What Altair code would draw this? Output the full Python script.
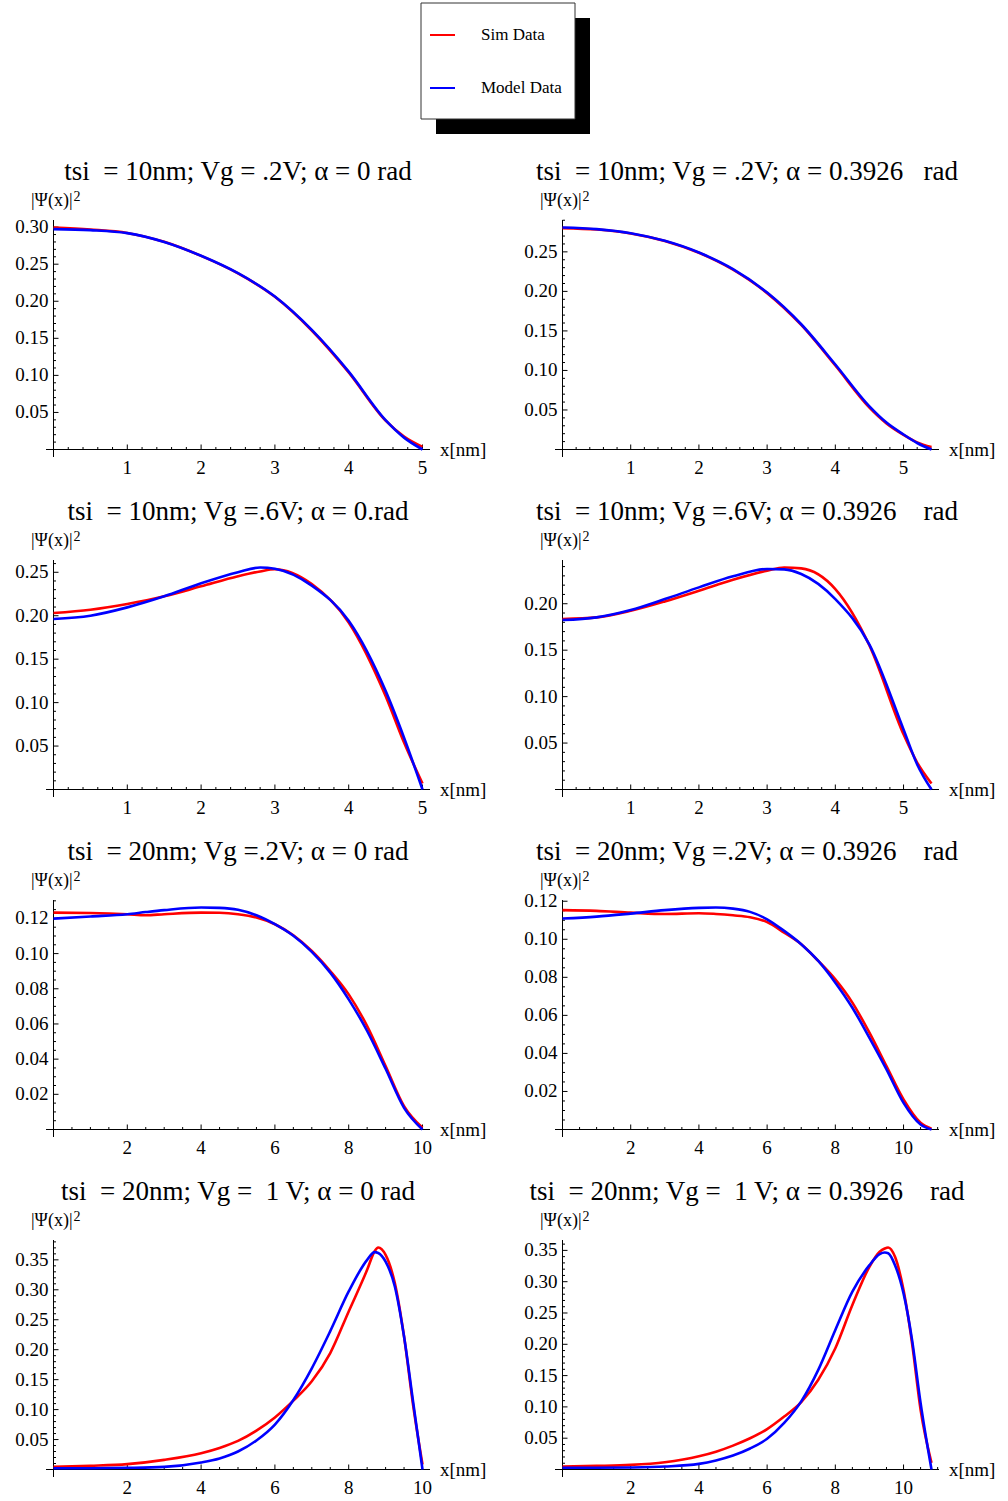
import altair as alt
import pandas as pd

FONT = "Liberation Serif"
SIM_COLOR = "#ff0000"
MODEL_COLOR = "#0000ff"
SERIES = ["Sim Data", "Model Data"]

# ---------------------------------------------------------------- data
# tsi = 10nm, Vg = .2V, alpha = 0
X1 = [0, 0.5, 1, 1.5, 2, 2.5, 3, 3.5, 4, 4.5, 4.75, 5]
SIM1 = [0.2995, 0.2968, 0.2922, 0.2802, 0.2612, 0.2376, 0.2060, 0.1605, 0.1040, 0.0390, 0.0175, 0.0036]
MOD1 = [0.2973, 0.2959, 0.2919, 0.2800, 0.2613, 0.2378, 0.2063, 0.1613, 0.1050, 0.0396, 0.0160, 0.0]

# tsi = 10nm, Vg = .2V, alpha = 0.3926
X2 = [0, 0.5, 1, 1.5, 2, 2.5, 3, 3.5, 4, 4.5, 4.75, 5, 5.2, 5.41]
SIM2 = [0.2800, 0.2782, 0.2733, 0.2638, 0.2488, 0.2275, 0.1978, 0.1575, 0.1062, 0.0530, 0.0330, 0.0185, 0.0090, 0.0030]
MOD2 = [0.2808, 0.2787, 0.2736, 0.2639, 0.2491, 0.2281, 0.1985, 0.1584, 0.1075, 0.0545, 0.0340, 0.0190, 0.0082, 0.0]

# tsi = 10nm, Vg = .6V, alpha = 0
X3 = [0, 0.5, 1, 1.5, 2, 2.5, 2.8, 3, 3.5, 4, 4.5, 4.75, 5]
SIM3 = [0.2031, 0.2069, 0.2135, 0.2223, 0.2338, 0.2454, 0.2510, 0.2535, 0.2365, 0.1923, 0.1077, 0.0540, 0.0069]
MOD3 = [0.1962, 0.2000, 0.2096, 0.2223, 0.2373, 0.2500, 0.2555, 0.2540, 0.2346, 0.1942, 0.1135, 0.0596, 0.0]

# tsi = 10nm, Vg = .6V, alpha = 0.3926
X4 = [0, 0.5, 1, 1.5, 2, 2.5, 3, 3.25, 3.5, 4, 4.5, 5, 5.2, 5.41]
SIM4 = [0.1835, 0.1853, 0.1924, 0.2025, 0.2140, 0.2259, 0.2356, 0.2390, 0.2381, 0.2158, 0.1550, 0.0594, 0.0290, 0.0065]
MOD4 = [0.1824, 0.1853, 0.1932, 0.2050, 0.2176, 0.2295, 0.2374, 0.2370, 0.2320, 0.2050, 0.1560, 0.0647, 0.0270, 0.0]

# tsi = 20nm, Vg = .2V, alpha = 0
X5 = [0, 1, 2, 2.5, 3, 4, 4.5, 5, 5.5, 6, 6.5, 7, 7.5, 8, 8.5, 9, 9.5, 10]
SIM5 = [0.1233, 0.1231, 0.1224, 0.1218, 0.1224, 0.1233, 0.1232, 0.1224, 0.1205, 0.1167, 0.1104, 0.1015,
        0.0901, 0.0768, 0.0588, 0.0361, 0.0133, 0.0010]
MOD5 = [0.1199, 0.1211, 0.1224, 0.1236, 0.1247, 0.1262, 0.1260, 0.1249, 0.1218, 0.1167, 0.1101, 0.1010,
        0.0892, 0.0740, 0.0560, 0.0345, 0.0123, 0.0]

# tsi = 20nm, Vg = .2V, alpha = 0.3926
X6 = [0, 1, 2, 3, 4, 4.5, 5, 5.5, 6, 6.5, 7, 7.5, 8, 8.5, 9, 9.5, 10, 10.5, 10.82]
SIM6 = [0.1153, 0.1149, 0.1140, 0.1133, 0.1137, 0.1133, 0.1126, 0.1116, 0.1090, 0.1035, 0.0974, 0.0886,
        0.0789, 0.0667, 0.0509, 0.0333, 0.0158, 0.0035, 0.0004]
MOD6 = [0.1109, 0.1119, 0.1135, 0.1153, 0.1165, 0.1167, 0.1161, 0.1144, 0.1105, 0.1044, 0.0974, 0.0886,
        0.0772, 0.0640, 0.0482, 0.0316, 0.0140, 0.0026, 0.0]

# tsi = 20nm, Vg = 1V, alpha = 0
X7 = [0, 1, 2, 3, 4, 4.5, 5, 5.5, 6, 6.5, 7, 7.5, 8, 8.5, 8.7, 8.8, 9, 9.25, 9.5, 9.75, 10]
SIM7 = [0.0044, 0.0061, 0.0089, 0.0161, 0.0272, 0.0360, 0.0478, 0.0650, 0.0870, 0.1150, 0.1472, 0.1944,
        0.2639, 0.3333, 0.3640, 0.3706, 0.3583, 0.3111, 0.2220, 0.1056, 0.0083]
MOD7 = [0.0022, 0.0022, 0.0028, 0.0044, 0.0117, 0.0185, 0.0300, 0.0485, 0.0750, 0.1160, 0.1690, 0.2310,
        0.2972, 0.3500, 0.3628, 0.3615, 0.3470, 0.3056, 0.2220, 0.1110, 0.0]

# tsi = 20nm, Vg = 1V, alpha = 0.3926
X8 = [0, 1, 2, 3, 4, 4.5, 5, 5.5, 6, 6.5, 7, 7.5, 8, 8.5, 9, 9.3, 9.45, 9.55, 9.75, 10, 10.25, 10.5, 10.82]
SIM8 = [0.0048, 0.0058, 0.0074, 0.0117, 0.0212, 0.0285, 0.0382, 0.0499, 0.0645, 0.0845, 0.1077, 0.1433,
        0.1937, 0.2627, 0.3238, 0.3477, 0.3530, 0.3546, 0.3397, 0.2866, 0.2017, 0.0955, 0.0106]
MOD8 = [0.0027, 0.0027, 0.0032, 0.0048, 0.0090, 0.0145, 0.0223, 0.0335, 0.0490, 0.0743, 0.1088, 0.1592,
        0.2229, 0.2840, 0.3264, 0.3440, 0.3466, 0.3455, 0.3264, 0.2813, 0.2070, 0.1062, 0.0]

NB = "\u00a0"
TITLES = [
    f"tsi {NB}= 10nm; Vg = .2V; α = 0 rad",
    f"tsi {NB}= 10nm; Vg = .2V; α = 0.3926 {NB}{NB}rad",
    f"tsi {NB}= 10nm; Vg =.6V; α = 0.rad",
    f"tsi {NB}= 10nm; Vg =.6V; α = 0.3926 {NB}{NB}{NB}rad",
    f"tsi {NB}= 20nm; Vg =.2V; α = 0 rad",
    f"tsi {NB}= 20nm; Vg =.2V; α = 0.3926 {NB}{NB}{NB}rad",
    f"tsi {NB}= 20nm; Vg = {NB}1 V; α = 0 rad",
    f"tsi {NB}= 20nm; Vg = {NB}1 V; α = 0.3926 {NB}{NB}{NB}rad",
]
X_TITLE = "x[nm]"
Y_TITLE = "|Ψ(x)|"
Y_TITLE_EXP = "2"

# (major x step, minor x step, major y step, minor y step) for each panel
TICK_STEPS = [
    (1, 0.2, 0.05, 0.01), (1, 0.2, 0.05, 0.01),
    (1, 0.2, 0.05, 0.01), (1, 0.2, 0.05, 0.01),
    (2, 0.5, 0.02, 0.005), (2, 0.5, 0.02, 0.005),
    (2, 0.5, 0.05, 0.01), (2, 0.5, 0.05, 0.01),
]

# ---------------------------------------------------------------- layout
W, H, PAD = 384, 237, 7.5          # plot area and plot-range padding (px)
COL_GAP, ROW_GAP = 125, 103
LABEL_SIZE = 19


def multiples(step, upper, skip=()):
    vals, k = [], 1
    while k * step <= upper + 1e-9:
        v = round(k * step, 6)
        if all(abs(v - s) > 1e-9 for s in skip):
            vals.append(v)
        k += 1
    return vals


def panel(title, xs, sim, model, steps):
    x_step, x_minor, y_step, y_minor = steps
    xmax = max(xs)
    ymax = max(max(sim), max(model))
    px = PAD * xmax / (W - 2 * PAD)
    py = PAD * ymax / (H - 2 * PAD)
    xdom = [-px, xmax + px]
    ydom = [-py, ymax + py]
    xsc = alt.Scale(domain=xdom, nice=False, zero=False)
    ysc = alt.Scale(domain=ydom, nice=False, zero=False)

    def X(field):
        return alt.X(field, scale=xsc, axis=None)

    def Y(field):
        return alt.Y(field, scale=ysc, axis=None)

    x_major = multiples(x_step, xdom[1])
    y_major = multiples(y_step, ydom[1])
    x_minor_v = multiples(x_minor, xdom[1], skip=x_major)
    y_minor_v = multiples(y_minor, ydom[1], skip=y_major)

    # axis lines crossing at the origin
    x_line = alt.Chart(pd.DataFrame({"a": [xdom[0]], "b": [xdom[1]], "z": [0.0]})).mark_rule(
        color="black", strokeWidth=1
    ).encode(x=X("a:Q"), x2="b:Q", y=Y("z:Q"))
    y_line = alt.Chart(pd.DataFrame({"z": [0.0], "a": [ydom[0]], "b": [ydom[1]]})).mark_rule(
        color="black", strokeWidth=1
    ).encode(x=X("z:Q"), y=Y("a:Q"), y2="b:Q")

    # inward tick marks
    def xticks(vals, length):
        d = pd.DataFrame({"v": vals, "z": [0.0] * len(vals)})
        return alt.Chart(d).mark_tick(
            orient="vertical", size=length, thickness=1, color="black", opacity=1, yOffset=-length / 2
        ).encode(x=X("v:Q"), y=Y("z:Q"))

    def yticks(vals, length):
        d = pd.DataFrame({"v": vals, "z": [0.0] * len(vals)})
        return alt.Chart(d).mark_tick(
            orient="horizontal", size=length, thickness=1, color="black", opacity=1, xOffset=length / 2
        ).encode(x=X("z:Q"), y=Y("v:Q"))

    # tick labels
    x_lab = alt.Chart(pd.DataFrame({
        "v": x_major, "z": [0.0] * len(x_major), "t": [f"{v:g}" for v in x_major]
    })).mark_text(
        font=FONT, fontSize=LABEL_SIZE, color="black", align="center", baseline="top", dy=9
    ).encode(x=X("v:Q"), y=Y("z:Q"), text="t:N")
    y_lab = alt.Chart(pd.DataFrame({
        "v": y_major, "z": [0.0] * len(y_major), "t": [f"{v:.2f}" for v in y_major]
    })).mark_text(
        font=FONT, fontSize=LABEL_SIZE, color="black", align="right", baseline="middle", dx=-5
    ).encode(x=X("z:Q"), y=Y("v:Q"), text="t:N")

    # axis titles: at the right end of the x axis and on top of the y axis
    x_tit = alt.Chart(pd.DataFrame({"a": [xdom[1]], "z": [0.0], "t": [X_TITLE]})).mark_text(
        font=FONT, fontSize=19, color="black", align="left", baseline="middle", dx=10
    ).encode(x=X("a:Q"), y=Y("z:Q"), text="t:N")
    y_tit_df = pd.DataFrame({"z": [0.0], "b": [ydom[1]], "t": [Y_TITLE], "e": [Y_TITLE_EXP]})
    y_tit = alt.Chart(y_tit_df).mark_text(
        font=FONT, fontSize=18, color="black", align="right", baseline="alphabetic", dx=19, dy=-14
    ).encode(x=X("z:Q"), y=Y("b:Q"), text="t:N")
    y_exp = alt.Chart(y_tit_df).mark_text(
        font=FONT, fontSize=14, color="black", align="left", baseline="alphabetic", dx=20, dy=-19
    ).encode(x=X("z:Q"), y=Y("b:Q"), text="e:N")

    curves = alt.Chart(pd.DataFrame({"x": xs, "sim": sim, "model": model}))
    sim_line = curves.mark_line(color=SIM_COLOR, strokeWidth=2.6, interpolate="monotone").encode(
        x=X("x:Q"), y=Y("sim:Q")
    )
    model_line = curves.mark_line(color=MODEL_COLOR, strokeWidth=2.6, interpolate="monotone").encode(
        x=X("x:Q"), y=Y("model:Q")
    )

    return alt.layer(
        x_line, y_line,
        xticks(x_major, 5), xticks(x_minor_v, 2.5),
        yticks(y_major, 5), yticks(y_minor_v, 2.5),
        x_lab, y_lab, x_tit, y_tit, y_exp,
        sim_line, model_line,
    ).properties(
        width=W, height=H,
        title=alt.TitleParams(
            text=title, font=FONT, fontSize=27, fontWeight="normal", color="black",
            anchor="middle", frame="group", offset=4,
        ),
    )


panels = [
    panel(TITLES[0], X1, SIM1, MOD1, TICK_STEPS[0]),
    panel(TITLES[1], X2, SIM2, MOD2, TICK_STEPS[1]),
    panel(TITLES[2], X3, SIM3, MOD3, TICK_STEPS[2]),
    panel(TITLES[3], X4, SIM4, MOD4, TICK_STEPS[3]),
    panel(TITLES[4], X5, SIM5, MOD5, TICK_STEPS[4]),
    panel(TITLES[5], X6, SIM6, MOD6, TICK_STEPS[5]),
    panel(TITLES[6], X7, SIM7, MOD7, TICK_STEPS[6]),
    panel(TITLES[7], X8, SIM8, MOD8, TICK_STEPS[7]),
]

grid = alt.concat(
    *panels, columns=2, spacing={"row": ROW_GAP, "column": COL_GAP}, bounds="flush"
).resolve_scale(x="independent", y="independent")

# ---------------------------------------------------------------- legend box with drop shadow
box = alt.Chart(pd.DataFrame({"n": [1]}))
shadow = box.mark_rect(color="black").encode(
    x=alt.value(390), x2=alt.value(544), y=alt.value(15), y2=alt.value(131)
)
frame = box.mark_rect(fill="white", stroke="#333333", strokeWidth=1).encode(
    x=alt.value(375), x2=alt.value(529), y=alt.value(0), y2=alt.value(116)
)
keys = alt.Chart(pd.DataFrame({"series": SERIES})).mark_point(opacity=0, size=1).encode(
    color=alt.Color(
        "series:N",
        scale=alt.Scale(domain=SERIES, range=[SIM_COLOR, MODEL_COLOR]),
        legend=alt.Legend(
            title=None, orient="none", legendX=383, legendY=19.5, padding=0,
            symbolType="stroke", symbolSize=625, symbolStrokeWidth=2, symbolOpacity=1,
            labelFont=FONT, labelFontSize=17, labelColor="black", labelOffset=25,
            rowPadding=28, clipHeight=25,
        ),
    )
)
legend_chart = alt.layer(shadow, frame, keys).properties(width=W, height=131)

chart = alt.vconcat(legend_chart, grid, spacing=86, bounds="flush").resolve_scale(
    color="independent"
).properties(
    padding={"left": 15, "top": 2, "right": 5, "bottom": 4}
).configure_view(
    strokeWidth=0
)

chart.save("out.html", embed_options={"renderer": "svg", "actions": False})
